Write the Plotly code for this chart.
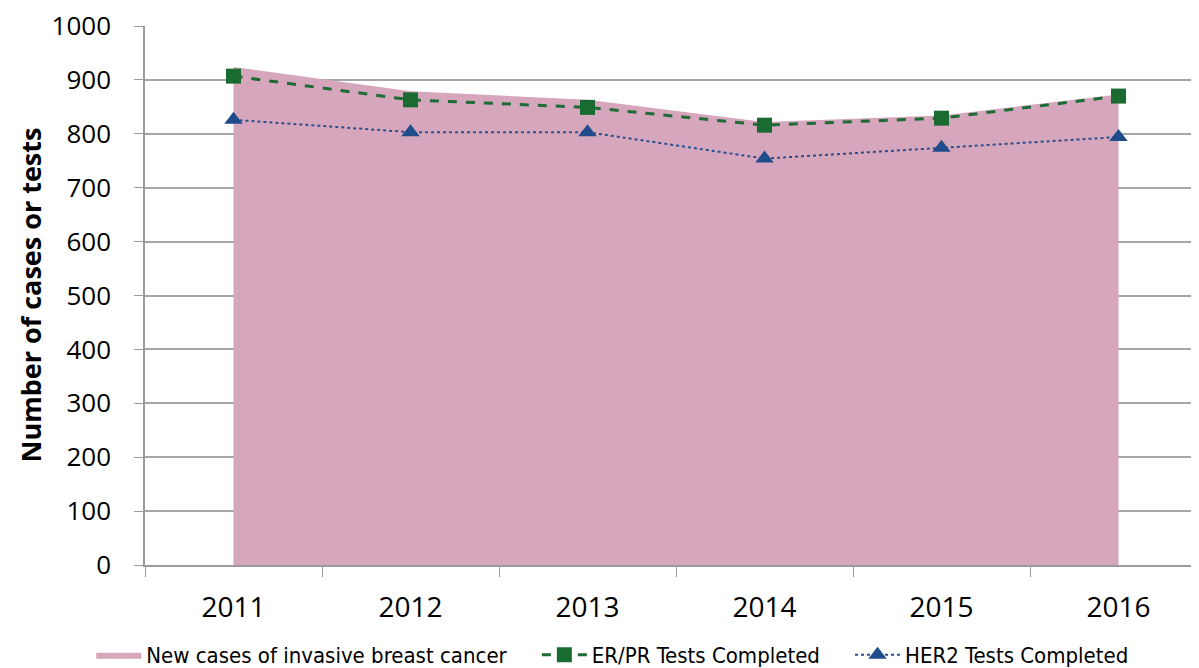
import plotly.graph_objects as go

years = ["2011", "2012", "2013", "2014", "2015", "2016"]
new_cases = [924, 879, 863, 822, 834, 873]
erpr_tests = [907, 863, 849, 816, 829, 870]
her2_tests = [826, 803, 803, 754, 774, 794]
y_ticks = [0, 100, 200, 300, 400, 500, 600, 700, 800, 900, 1000]

pad = "\u00a0" * 4
fig = go.Figure()
fig.add_trace(go.Scatter(
    x=years, y=new_cases, name="New cases of invasive breast cancer" + pad,
    mode="lines", fill="tozeroy", line=dict(color="rgb(214,166,189)", width=0),
    fillcolor="rgb(214,166,189)"))
fig.add_trace(go.Scatter(
    x=years, y=erpr_tests, name="ER/PR Tests Completed" + pad,
    mode="lines+markers", line=dict(color="#1E6B36", width=3, dash="dash"),
    marker=dict(symbol="square", size=15, color="#1A6B32")))
fig.add_trace(go.Scatter(
    x=years, y=her2_tests, name="HER2 Tests Completed",
    mode="lines+markers", line=dict(color="#2A4F8F", width=2, dash="dot"),
    marker=dict(symbol="triangle-up", size=16, color="#1F4C8A")))

fig.update_layout(
    width=1199, height=668,
    margin=dict(l=137, r=0, t=18, b=111, autoexpand=False),
    paper_bgcolor="white", plot_bgcolor="white",
    font=dict(family="Open Sans, Liberation Sans, sans-serif", color="#000000", size=28),
    showlegend=True,
    legend=dict(orientation="h", x=0.44, xanchor="center", y=-0.167, yanchor="middle",
                font=dict(size=22, family="DejaVu Sans Condensed, sans-serif"),
                itemwidth=45, traceorder="normal"),
    annotations=[dict(text="<b>Number of cases or tests</b>", textangle=-90,
                      xref="paper", yref="paper", x=-(145 - 30) / 1062, y=0.5,
                      xanchor="center", yanchor="middle", showarrow=False,
                      font=dict(size=27))],
)
fig.update_xaxes(
    type="category", range=[-0.5, 5.5], showgrid=False,
    showline=True, linecolor="#9A9A9A", linewidth=1.5,
    ticks="outside", tickson="boundaries", ticklen=10, tickcolor="#9A9A9A",
    tickfont=dict(size=28), ticklabelstandoff=17, fixedrange=True)
fig.update_yaxes(
    range=[0, 1000], tickvals=y_ticks, showgrid=True, gridcolor="#A6A6A6", gridwidth=1.5,
    showline=True, linecolor="#9A9A9A", linewidth=1.5,
    ticks="outside", ticklen=9, tickcolor="#9A9A9A", zeroline=False,
    tickfont=dict(size=26), ticklabelstandoff=18, ticklabeloverflow="allow")

fig.write_html("out.html")
